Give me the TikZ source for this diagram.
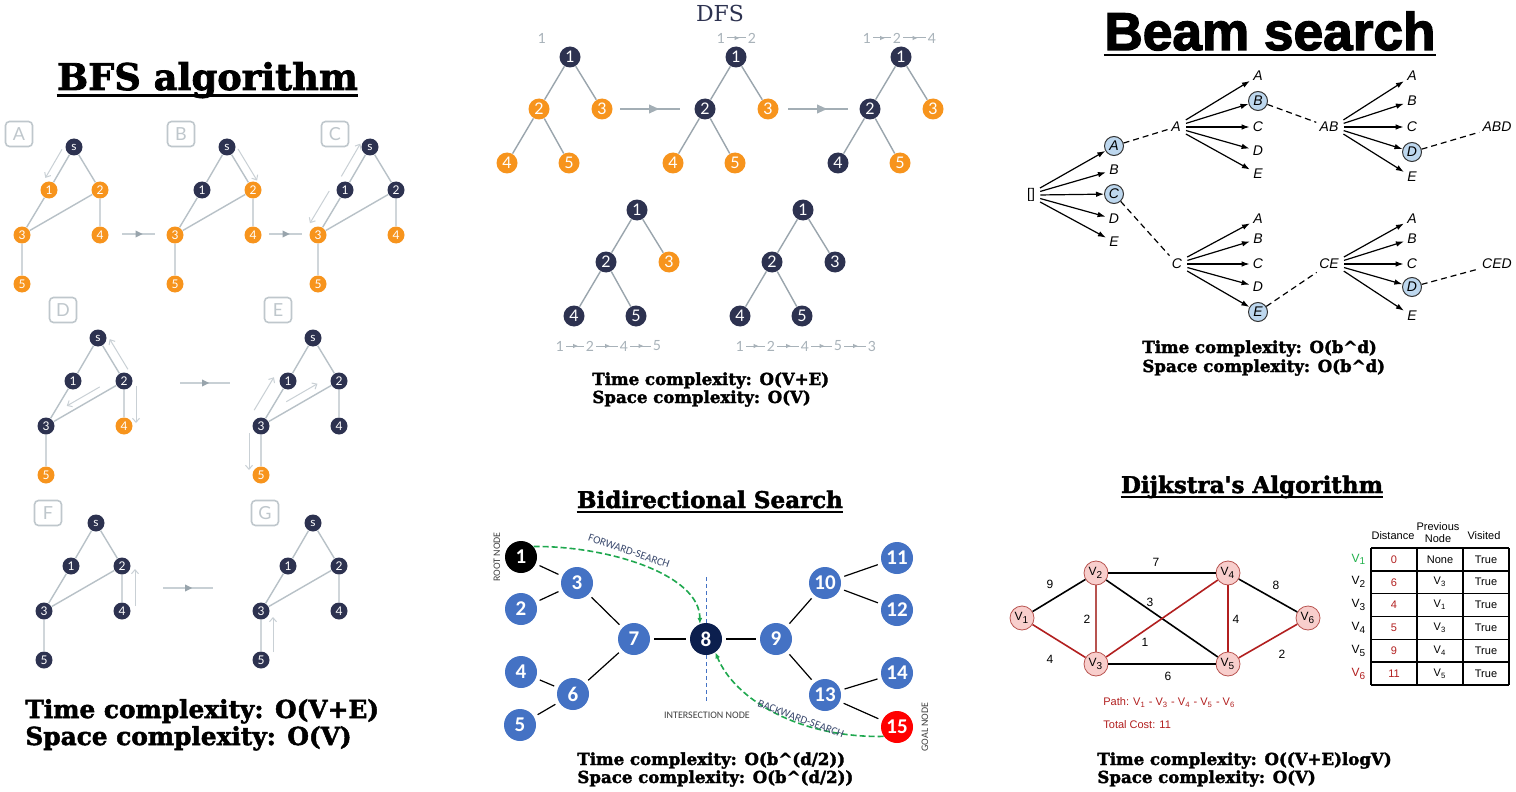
\documentclass[tikz,border=0pt]{standalone}
\usepackage{fontspec}
\setmainfont{Liberation Sans}
\newfontfamily\heavyfont{DejaVu Serif Bold}[FakeBold=2]
\newfontfamily\dserif{DejaVu Serif}
\newfontfamily\beamfont{Liberation Sans Bold}[FakeBold=2.5]
\newfontfamily\latofont{Lato}
\newfontfamily\carlitofont{Carlito}
\usetikzlibrary{calc,arrows.meta,decorations.markings}
\newcommand\fsz[1]{\fontsize{#1}{#1}\selectfont}
\definecolor{bo}{HTML}{F7941D}
\definecolor{nv}{HTML}{2D3250}
\definecolor{bfsedge}{HTML}{B8C1C7}
\definecolor{bfstrav}{HTML}{C9D0D5}
\definecolor{boxgray}{HTML}{BFC7CC}
\definecolor{midline}{HTML}{C8D0D5}
\definecolor{midtri}{HTML}{98A4AC}
\definecolor{dfsedge}{HTML}{9AA5AD}
\definecolor{dfsline}{HTML}{A3AEB5}
\definecolor{ordgray}{HTML}{A8B2B9}
\definecolor{beamblue}{HTML}{BDD7EE}
\definecolor{bblue}{HTML}{4472C4}
\definecolor{bnavy}{HTML}{0C1F4E}
\definecolor{fgreen}{HTML}{1FA84F}
\definecolor{lblnavy}{HTML}{3B4A6E}
\definecolor{dpink}{HTML}{F8CECC}
\definecolor{dborder}{HTML}{B85450}
\definecolor{dred}{HTML}{B21F1F}
\definecolor{dgreen}{HTML}{22B14C}
\tikzset{
  bfsn/.style={circle,inner sep=0pt,minimum size=8.5pt,text=white,font=\latofont\fsz{6pt}},
  bfse/.style={draw=bfsedge,line width=0.7pt},
  bfstr/.style={draw=bfstrav,line width=0.5pt,-{Straight Barb[length=2pt,width=3.5pt]}},
  bfsbox/.style={draw=boxgray,line width=0.8pt,rounded corners=2pt,minimum width=13.5pt,minimum height=12.5pt,inner sep=0pt,text=boxgray,font=\latofont\fsz{9pt}},
  bfsmid/.style={draw=midline,line width=1pt,decoration={markings,mark=at position 0.5 with {\fill[midtri] (2pt,0) -- (-1.5pt,1.8pt) -- (-1.5pt,-1.8pt) -- cycle;}},postaction={decorate}},
  dfsn/.style={circle,inner sep=0pt,minimum size=10.5pt,text=white,font=\latofont\fsz{8pt}},
  dfse/.style={draw=dfsedge,line width=0.7pt},
  dfsmid/.style={draw=dfsline,line width=1pt,decoration={markings,mark=at position 0.55 with {\fill[dfsline] (3pt,0) -- (-2pt,2.3pt) -- (-2pt,-2.3pt) -- cycle;}},postaction={decorate}},
  ordn/.style={inner sep=1pt,text=ordgray,font=\latofont\fsz{7pt}},
  ordl/.style={draw=ordgray,line width=0.5pt,decoration={markings,mark=at position 0.5 with {\fill[ordgray] (1.3pt,0) -- (-1pt,1.1pt) -- (-1pt,-1.1pt) -- cycle;}},postaction={decorate}},
  cx/.style={anchor=base west,inner sep=0pt,font=\heavyfont\fsz{8.3pt}},
  cxbig/.style={anchor=base west,inner sep=0pt,font=\heavyfont\fsz{12.4pt}},
  ttl/.style={anchor=base,inner sep=0pt,font=\heavyfont\fsz{11.5pt}},
  bl/.style={inner sep=1.5pt,font=\itshape\fsz{7pt}},
  bc/.style={circle,draw=black!80,line width=0.5pt,fill=beamblue,minimum size=9.5pt,inner sep=0pt,font=\itshape\fsz{7pt}},
  ba/.style={draw=black,line width=0.6pt,-{Latex[length=4pt,width=2.8pt]},shorten <=1pt},
  bd/.style={draw=black,line width=0.6pt,dash pattern=on 3pt off 2pt},
  bdn/.style={circle,inner sep=0pt,minimum size=16pt,fill=bblue,text=white,font=\carlitofont\bfseries\fsz{10.5pt}},
  bde/.style={draw=black,line width=0.6pt,shorten <=2pt,shorten >=2pt},
  srch/.style={draw=fgreen,line width=0.8pt,dash pattern=on 3pt off 1.5pt,-{Latex[length=3pt,width=2.5pt]}},
  smalllbl/.style={inner sep=0pt,text=lblnavy,font=\carlitofont\fsz{5.5pt}},
  grylbl/.style={inner sep=0pt,text=black!75,font=\carlitofont\fsz{5pt}},
  dn/.style={circle,minimum size=12pt,inner sep=0pt,fill=dpink,draw=dborder,line width=0.4pt,font=\fsz{6pt}},
  dk/.style={draw=black,line width=0.8pt},
  dr/.style={draw=dred,line width=0.8pt},
  dr2/.style={draw=dborder,line width=0.8pt},
  dw/.style={inner sep=0pt,font=\fsz{6pt}},
  tb/.style={inner sep=0pt,font=\fsz{5.5pt}},
}
\newcommand\bfsg[8]{%
  \begin{scope}[shift={(#2,#3)}]
    \node[bfsn,fill=nv] (#1-s) at (0,0) {s};
    \node[bfsn,fill=#4] (#1-1) at (-25,43) {1};
    \node[bfsn,fill=#5] (#1-2) at (26,43) {2};
    \node[bfsn,fill=#6] (#1-3) at (-52,88) {3};
    \node[bfsn,fill=#7] (#1-4) at (26,88) {4};
    \node[bfsn,fill=#8] (#1-5) at (-52,137) {5};
  \end{scope}
  \draw[bfse] (#1-s)--(#1-1) (#1-s)--(#1-2) (#1-1)--(#1-3) (#1-2)--(#1-3) (#1-2)--(#1-4) (#1-3)--(#1-5);}
\newcommand\trv[5]{\draw[bfstr] ($(#1)!#3!(#2)!#5!90:(#2)$) -- ($(#2)!#4!(#1)!#5!-90:(#1)$);}
\newcommand\dfst[7]{%
  \begin{scope}[shift={(#2,#3)}]
    \node[dfsn,fill=nv] (#1-1) at (0,0) {1};
    \node[dfsn,fill=#4] (#1-2) at (-31,52) {2};
    \node[dfsn,fill=#5] (#1-3) at (32,52) {3};
    \node[dfsn,fill=#6] (#1-4) at (-63,106) {4};
    \node[dfsn,fill=#7] (#1-5) at (-1,106) {5};
  \end{scope}
  \draw[dfse] (#1-1)--(#1-2) (#1-1)--(#1-3) (#1-2)--(#1-4) (#1-2)--(#1-5);}
\newcommand\fan[6]{%
  \draw[ba] ([yshift=3pt]#1.east) -- (#2);
  \draw[ba] ([yshift=1.5pt]#1.east) -- (#3);
  \draw[ba] (#1.east) -- (#4);
  \draw[ba] ([yshift=-1.5pt]#1.east) -- (#5);
  \draw[ba] ([yshift=-3pt]#1.east) -- (#6);}
\begin{document}
\begin{tikzpicture}[x=0.5pt,y=-0.5pt]
\useasboundingbox[fill=white] (0,0) rectangle (1516,792);

% ================= BFS =================
\node[anchor=base,inner sep=0pt,font=\heavyfont\fsz{18.4pt}] (tBFS) at (207.5,90) {BFS algorithm};
\draw[line width=1.5pt] ([yshift=-3pt]tBFS.base west) -- ([yshift=-3pt]tBFS.base east);

\bfsg{A}{74}{147}{bo}{bo}{bo}{bo}{bo}
\bfsg{B}{227}{147}{nv}{bo}{bo}{bo}{bo}
\bfsg{C}{370}{147}{nv}{nv}{bo}{bo}{bo}
\bfsg{D}{98}{338}{nv}{nv}{nv}{bo}{bo}
\bfsg{E}{313}{338}{nv}{nv}{nv}{nv}{bo}
\bfsg{F}{96}{523}{nv}{nv}{nv}{nv}{nv}
\bfsg{G}{313}{523}{nv}{nv}{nv}{nv}{nv}

\node[bfsbox] (boxA) at (19,134) {A};
\node[bfsbox] (boxB) at (181,134) {B};
\node[bfsbox] (boxC) at (335,134) {C};
\node[bfsbox] (boxD) at (63,310) {D};
\node[bfsbox] (boxE) at (278,310) {E};
\node[bfsbox] (boxF) at (48,513) {F};
\node[bfsbox] (boxG) at (265,513) {G};

\trv{A-s}{A-1}{4pt}{4.3pt}{-4.6pt}
\trv{B-s}{B-2}{3.7pt}{3pt}{4.2pt}
\trv{C-1}{C-s}{5pt}{1pt}{5pt}
\trv{C-1}{C-3}{4.5pt}{3pt}{-6.5pt}
\trv{D-2}{D-s}{4pt}{3.5pt}{-4.7pt}
\trv{D-2}{D-3}{12pt}{14pt}{-3.5pt}
\trv{D-2}{D-4}{2.5pt}{1.5pt}{6pt}
\trv{E-3}{E-1}{5pt}{2pt}{7pt}
\trv{E-3}{E-2}{17pt}{10pt}{4.2pt}
\trv{E-3}{E-5}{3.5pt}{2.5pt}{-6pt}
\trv{F-4}{F-2}{2.5pt}{1.5pt}{-6.5pt}
\trv{G-5}{G-3}{4pt}{3pt}{-6pt}

\coordinate (ab1) at (122,234); \coordinate (ab2) at (155,234);
\coordinate (bc1) at (269,234); \coordinate (bc2) at (302,234);
\coordinate (de1) at (180,383); \coordinate (de2) at (230,383);
\coordinate (fg1) at (163,588); \coordinate (fg2) at (213,588);
\draw[bfsmid] (ab1) -- (ab2);
\draw[bfsmid] (bc1) -- (bc2);
\draw[bfsmid] (de1) -- (de2);
\draw[bfsmid] (fg1) -- (fg2);

\node[cxbig] (bfsT) at (25,718) {Time complexity: O(V+E)};
\node[cxbig] (bfsS) at (25,745) {Space complexity: O(V)};

% ================= DFS =================
\node[anchor=base,inner sep=0pt,text=nv,font=\dserif\fsz{11pt}] (tDFS) at (720,22) {DFS};
\dfst{T1}{570}{57}{bo}{bo}{bo}{bo}
\dfst{T2}{736}{57}{nv}{bo}{bo}{bo}
\dfst{T3}{901}{57}{nv}{bo}{nv}{bo}
\dfst{T4}{637}{210}{nv}{bo}{nv}{nv}
\dfst{T5}{803}{210}{nv}{nv}{nv}{nv}
\coordinate (d12a) at (620,109); \coordinate (d12b) at (680,109);
\coordinate (d23a) at (788,109); \coordinate (d23b) at (848,109);
\draw[dfsmid] (d12a) -- (d12b);
\draw[dfsmid] (d23a) -- (d23b);

\node[ordn] (o1a) at (542,38) {1};
\node[ordn] (o2a) at (721,38) {1};
\node[ordn] (o2b) at (752,38) {2};
\draw[ordl] (o2a) -- (o2b);
\node[ordn] (o3a) at (867,38) {1};
\node[ordn] (o3b) at (897,38) {2};
\node[ordn] (o3c) at (932,38) {4};
\draw[ordl] (o3a) -- (o3b);
\draw[ordl] (o3b) -- (o3c);
\node[ordn] (o4a) at (560,346) {1};
\node[ordn] (o4b) at (590,346) {2};
\node[ordn] (o4c) at (624,346) {4};
\node[ordn] (o4d) at (657,346) {5};
\draw[ordl] (o4a) -- (o4b);
\draw[ordl] (o4b) -- (o4c);
\draw[ordl] (o4c) -- (o4d);
\node[ordn] (o5a) at (740,346) {1};
\node[ordn] (o5b) at (771,346) {2};
\node[ordn] (o5c) at (805,346) {4};
\node[ordn] (o5d) at (838,346) {5};
\node[ordn] (o5e) at (872,346) {3};
\draw[ordl] (o5a) -- (o5b);
\draw[ordl] (o5b) -- (o5c);
\draw[ordl] (o5c) -- (o5d);
\draw[ordl] (o5d) -- (o5e);

\node[cx] (dfsT) at (592,385) {Time complexity: O(V+E)};
\node[cx] (dfsS) at (592,403) {Space complexity: O(V)};

% ================= Beam search =================
\node[anchor=base,inner sep=0pt,font=\beamfont\fsz{26.6pt}] (tBeam) at (1270,50) {Beam search};
\draw[line width=1pt] ([yshift=-2.75pt]tBeam.base west) -- ([yshift=-2.75pt]tBeam.base east);

\node[bl,font=\fsz{7pt}] (r0) at (1031,195) {[]};
\node[bc] (l1A) at (1114,146) {A};
\node[bl] (l1B) at (1114,170) {B};
\node[bc] (l1C) at (1114,194) {C};
\node[bl] (l1D) at (1114,219) {D};
\node[bl] (l1E) at (1114,242) {E};
\fan{r0}{l1A}{l1B}{l1C}{l1D}{l1E}

\node[bl] (b2A) at (1176,127) {A};
\node[bl] (m1A) at (1258,76) {A};
\node[bc] (m1B) at (1258,101) {B};
\node[bl] (m1C) at (1258,127) {C};
\node[bl] (m1D) at (1258,151) {D};
\node[bl] (m1E) at (1258,174) {E};
\fan{b2A}{m1A}{m1B}{m1C}{m1D}{m1E}

\node[bl] (bAB) at (1329,127) {AB};
\node[bl] (n1A) at (1412,76) {A};
\node[bl] (n1B) at (1412,101) {B};
\node[bl] (n1C) at (1412,127) {C};
\node[bc] (n1D) at (1412,152) {D};
\node[bl] (n1E) at (1412,177) {E};
\fan{bAB}{n1A}{n1B}{n1C}{n1D}{n1E}
\node[bl] (bABD) at (1497,127) {ABD};

\node[bl] (bC) at (1177,264) {C};
\node[bl] (m2A) at (1258,219) {A};
\node[bl] (m2B) at (1258,239) {B};
\node[bl] (m2C) at (1258,264) {C};
\node[bl] (m2D) at (1258,287) {D};
\node[bc] (m2E) at (1258,312) {E};
\fan{bC}{m2A}{m2B}{m2C}{m2D}{m2E}

\node[bl] (bCE) at (1329,264) {CE};
\node[bl] (n2A) at (1412,219) {A};
\node[bl] (n2B) at (1412,239) {B};
\node[bl] (n2C) at (1412,264) {C};
\node[bc] (n2D) at (1412,287) {D};
\node[bl] (n2E) at (1412,316) {E};
\fan{bCE}{n2A}{n2B}{n2C}{n2D}{n2E}
\node[bl] (bCED) at (1497,264) {CED};

\draw[bd] (l1A) -- (b2A);
\draw[bd] (m1B) -- (bAB);
\draw[bd] (n1D) -- (bABD);
\draw[bd] (l1C) -- (bC);
\draw[bd] (m2E) -- (bCE);
\draw[bd] (n2D) -- (bCED);

\node[cx] (bmT) at (1142,353) {Time complexity: O(b\textasciicircum d)};
\node[cx] (bmS) at (1142,372) {Space complexity: O(b\textasciicircum d)};

% ================= Bidirectional =================
\node[ttl] (tBid) at (710,508) {Bidirectional Search};
\draw[line width=0.8pt] ([yshift=-2pt]tBid.base west) -- ([yshift=-2pt]tBid.base east);

\node[bdn,fill=black] (b1) at (521,557) {1};
\node[bdn] (b3) at (577,583) {3};
\node[bdn] (b2) at (521,609) {2};
\node[bdn] (b7) at (634,639) {7};
\node[bdn] (b4) at (521,672) {4};
\node[bdn] (b6) at (573,694) {6};
\node[bdn] (b5) at (520,725) {5};
\node[bdn,fill=bnavy] (b8) at (706,639) {8};
\node[bdn] (b9) at (776,639) {9};
\node[bdn] (b10) at (825,583) {10};
\node[bdn] (b11) at (897,558) {11};
\node[bdn] (b12) at (897,610) {12};
\node[bdn] (b13) at (825,695) {13};
\node[bdn] (b14) at (897,673) {14};
\node[bdn,fill=red] (b15) at (897,727) {15};
\draw[bde] (b1)--(b3);
\draw[bde] (b2)--(b3);
\draw[bde] (b3)--(b7);
\draw[bde] (b4)--(b6);
\draw[bde] (b5)--(b6);
\draw[bde] (b6)--(b7);
\draw[bde] (b7)--(b8);
\draw[bde] (b8)--(b9);
\draw[bde] (b9)--(b10);
\draw[bde] (b10)--(b11);
\draw[bde] (b10)--(b12);
\draw[bde] (b9)--(b13);
\draw[bde] (b13)--(b14);
\draw[bde] (b13)--(b15);

\draw[draw=bblue,line width=0.5pt,dash pattern=on 2pt off 1.5pt] (b8.north) -- ++(0,-46);
\draw[draw=bblue,line width=0.5pt,dash pattern=on 2pt off 1.5pt] (b8.south) -- ++(0,48);

\draw[srch] (b1.40) .. controls (610,546) and (700,575) .. (b8.112);
\draw[srch] (b15.215) .. controls (800,738) and (735,700) .. (b8.-55);
\node[smalllbl,rotate=-19] (fwd) at (629,551) {FORWARD-SEARCH};
\node[smalllbl,rotate=-20] (bwd) at (801,719) {BACKWARD-SEARCH};
\node[grylbl] (inter) at (707,715) {INTERSECTION NODE};
\node[grylbl,rotate=90] (rootl) at (497,557) {ROOT NODE};
\node[grylbl,rotate=90] (goall) at (925,727) {GOAL NODE};

\node[cx] (biT) at (577,765) {Time complexity: O(b\textasciicircum (d/2))};
\node[cx] (biS) at (577,783) {Space complexity: O(b\textasciicircum (d/2))};

% ================= Dijkstra =================
\node[ttl] (tDij) at (1252,493) {Dijkstra's Algorithm};
\draw[line width=0.8pt] ([yshift=-2pt]tDij.base west) -- ([yshift=-2pt]tDij.base east);

\node[dn] (v1) at (1022,618) {V\textsubscript{1}};
\node[dn] (v2) at (1096,573) {V\textsubscript{2}};
\node[dn] (v3) at (1096,664) {V\textsubscript{3}};
\node[dn] (v4) at (1228,573) {V\textsubscript{4}};
\node[dn] (v5) at (1228,664) {V\textsubscript{5}};
\node[dn] (v6) at (1308,618) {V\textsubscript{6}};
\draw[dk] (v1)--(v2);
\draw[dr] (v1)--(v3);
\draw[dr2] (v2)--(v3);
\draw[dk] (v2)--(v4);
\draw[dk] (v2)--(v5);
\draw[dr] (v3)--(v4);
\draw[dk] (v3)--(v5);
\draw[dr] (v4)--(v5);
\draw[dk] (v4)--(v6);
\draw[dr] (v5)--(v6);
\node[dw] (w9) at (1050,584) {9};
\node[dw] (w7) at (1156,562) {7};
\node[dw] (w3) at (1150,602) {3};
\node[dw] (w2a) at (1087,619) {2};
\node[dw] (w1) at (1145,642) {1};
\node[dw] (w4a) at (1236,619) {4};
\node[dw] (w8) at (1276,585) {8};
\node[dw] (w4b) at (1050,659) {4};
\node[dw] (w6) at (1168,676) {6};
\node[dw] (w2b) at (1282,654) {2};

\node[anchor=base west,inner sep=0pt,text=dred,font=\fsz{5.5pt}] (path) at (1103,705) {Path: V\textsubscript{1} - V\textsubscript{3} - V\textsubscript{4} - V\textsubscript{5} - V\textsubscript{6}};
\node[anchor=base west,inner sep=0pt,text=dred,font=\fsz{5.5pt}] (cost) at (1103,728) {Total Cost: 11};

% table
\foreach \xx in {1371,1417,1463,1509} \draw[line width=0.8pt] (\xx,548) -- (\xx,685);
\foreach \yy in {548,570.83,593.67,616.5,639.33,662.17,685} \draw[line width=0.8pt] (1371,\yy) -- (1509,\yy);
\node[tb] (hd) at (1393,536) {Distance};
\node[tb] (hp1) at (1438,527) {Previous};
\node[tb] (hp2) at (1438,539) {Node};
\node[tb] (hv) at (1484,536) {Visited};
\node[tb,text=dgreen,font=\fsz{6pt}] (rv1) at (1359,559.4) {V\textsubscript{1}};
\node[tb,font=\fsz{6pt}] (rv2) at (1359,582.2) {V\textsubscript{2}};
\node[tb,font=\fsz{6pt}] (rv3) at (1359,605.1) {V\textsubscript{3}};
\node[tb,font=\fsz{6pt}] (rv4) at (1359,627.9) {V\textsubscript{4}};
\node[tb,font=\fsz{6pt}] (rv5) at (1359,650.7) {V\textsubscript{5}};
\node[tb,text=dred,font=\fsz{6pt}] (rv6) at (1359,673.6) {V\textsubscript{6}};
\foreach \dd/\pp [count=\i from 0] in {0/None,6/V\textsubscript{3},4/V\textsubscript{1},5/V\textsubscript{3},9/V\textsubscript{4},11/V\textsubscript{5}} {
  \node[tb,text=dred] (cd\i) at (1394,559.4+22.83*\i) {\dd};
  \node[tb] (cp\i) at (1440,559.4+22.83*\i) {\pp};
  \node[tb] (cv\i) at (1486,559.4+22.83*\i) {True};
}

\node[cx] (djT) at (1097,765) {Time complexity: O((V+E)logV)};
\node[cx] (djS) at (1097,783) {Space complexity: O(V)};
\end{tikzpicture}
\end{document}
